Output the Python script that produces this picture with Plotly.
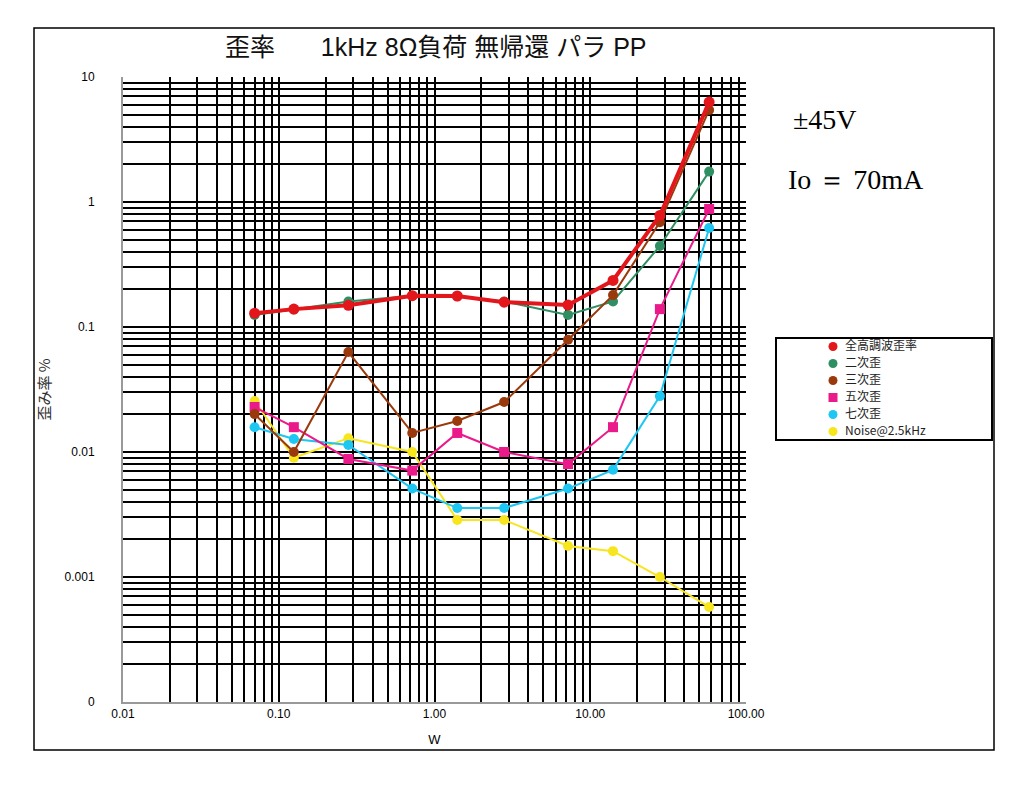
import plotly.graph_objects as go

# ---- data ----
power_w = [0.07, 0.125, 0.28, 0.72, 1.4, 2.8, 7.2, 14, 28, 58]
thd_total = [0.129, 0.139, 0.149, 0.178, 0.177, 0.158, 0.150, 0.236, 0.78, 6.3]
h2 = [0.125, 0.138, 0.160, 0.178, 0.176, 0.160, 0.125, 0.160, 0.445, 1.75]
h3 = [0.0201, 0.0100, 0.063, 0.0142, 0.0177, 0.0251, 0.079, 0.180, 0.69, 5.45]
h5 = [0.0229, 0.0158, 0.0088, 0.0071, 0.0142, 0.0100, 0.0080, 0.0158, 0.139, 0.88]
h7 = [0.0158, 0.0127, 0.0114, 0.0051, 0.00356, 0.00356, 0.0051, 0.0072, 0.028, 0.62]
noise = [0.0256, 0.0090, 0.0129, 0.0100, 0.00286, 0.00286, 0.00177, 0.00161, 0.0010, 0.000575]

series_names = ["全高調波歪率", "二次歪", "三次歪", "五次歪", "七次歪", "Noise@2.5kHz"]
series_values = [thd_total, h2, h3, h5, h7, noise]
series_colors = ["#e3161b", "#2f8f62", "#9a3a0c", "#ea1a8a", "#1ec6f2", "#f7e51e"]
series_symbols = ["circle", "circle", "circle", "square", "circle", "circle"]
series_widths = [4, 2, 2, 2, 2, 2]

x_tickvals = [0.01, 0.1, 1, 10, 100]
x_ticktext = ["0.01", "0.10", "1.00", "10.00", "100.00"]
y_tickvals = [0.0001, 0.001, 0.01, 0.1, 1, 10]
y_ticktext = ["0", "0.001", "0.01", "0.1", "1", "10"]

x_minor = [m * 10 ** e for e in range(-2, 2) for m in range(2, 10)]
y_minor = [m * 10 ** e for e in range(-4, 1) for m in range(2, 10)]

fig = go.Figure()

# draw lines (order: thin ones first, red on top)
order = [5, 4, 3, 1, 2, 0]
for i in order:
    fig.add_trace(go.Scatter(
        x=power_w, y=series_values[i], mode="lines+markers",
        line=dict(color=series_colors[i], width=series_widths[i]),
        marker=dict(color=series_colors[i], size=11 if i == 0 else 10,
                    symbol=series_symbols[i]),
        name=series_names[i], showlegend=False,
        xaxis="x", yaxis="y",
    ))

# legend drawn on an auxiliary axis pair (marker + label per series)
fig.add_trace(go.Scatter(
    x=[0] * len(series_names), y=list(range(len(series_names))),
    mode="markers+text", text=series_names, textposition="middle right",
    texttemplate="\u00a0\u00a0%{text}",
    textfont=dict(family="Noto Sans CJK JP, Liberation Sans", size=12, color="#222"),
    marker=dict(color=series_colors, symbol=series_symbols, size=9),
    showlegend=False, hoverinfo="skip", cliponaxis=False,
    xaxis="x2", yaxis="y2",
))

OFF = 8  # page body margin
L, R, T, B = 123, 746, 77, 702
RP = 994  # right edge of paper area used
W, H = 1016, 788
PW, ph = RP - L, B - T


def px(xp):
    return (xp - L) / PW


def py(yp):
    return (B - yp) / ph


fig.update_layout(
    width=W, height=H,
    margin=dict(l=L - OFF, r=W + OFF - RP, t=T - OFF, b=H + OFF - B),
    paper_bgcolor="white", plot_bgcolor="white",
    font=dict(family="Liberation Sans, Arial, sans-serif", color="black", size=12),
    showlegend=False,
    xaxis=dict(
        domain=[0, px(R)],
        type="log", range=[-2, 2],
        tickmode="array", tickvals=x_tickvals, ticktext=x_ticktext,
        showgrid=True, gridcolor="black", gridwidth=2,
        minor=dict(tickmode="array", tickvals=x_minor, showgrid=True,
                   gridcolor="black", gridwidth=1.6),
        showline=True, linecolor="#999", linewidth=2,
        ticks="", zeroline=False,
        tickfont=dict(size=12, family="Liberation Sans, Arial"),
        title=dict(text="W", font=dict(size=13), standoff=14),
    ),
    yaxis=dict(
        type="log", range=[-4, 1],
        tickmode="array", tickvals=y_tickvals, ticktext=y_ticktext,
        showgrid=True, gridcolor="black", gridwidth=2,
        minor=dict(tickmode="array", tickvals=y_minor, showgrid=True,
                   gridcolor="black", gridwidth=1.6),
        showline=True, linecolor="#999", linewidth=2,
        ticks="", zeroline=False, ticklabelstandoff=24,
        tickfont=dict(size=12, family="Liberation Sans, Arial"),
        title=dict(text="歪み率 %", font=dict(size=15, family="Noto Sans CJK JP", color="#333"),
                   standoff=10),
    ),
    xaxis2=dict(
        domain=[px(825), px(985)], range=[-1, 19], anchor="y2",
        visible=False, fixedrange=True,
    ),
    yaxis2=dict(
        domain=[py(440), py(338)], range=[5.5, -0.5], anchor="x2",
        visible=False, fixedrange=True,
    ),
    shapes=[
        dict(type="rect", xref="paper", yref="paper",
             x0=px(34), x1=px(994), y0=py(750), y1=py(28),
             line=dict(color="black", width=1.5), fillcolor="rgba(0,0,0,0)", layer="below"),
        dict(type="rect", xref="paper", yref="paper",
             x0=px(776), x1=px(992), y0=py(440), y1=py(338),
             line=dict(color="black", width=2), fillcolor="white", layer="below"),
    ],
    annotations=[
        dict(text="歪率\u3000\u00a0\u00a0\u00a01kHz 8Ω負荷 無帰還 パラ PP", xref="paper", yref="paper",
             x=px(436), y=py(47), xanchor="center", yanchor="middle", showarrow=False,
             font=dict(size=25, family="Liberation Sans, Noto Sans CJK JP", color="#111")),
        dict(text="±45V", xref="paper", yref="paper",
             x=px(825), y=py(120), xanchor="center", yanchor="middle", showarrow=False,
             font=dict(size=28, family="Liberation Serif, Times New Roman, serif", color="black")),
        dict(text="Io ＝ 70mA", xref="paper", yref="paper",
             x=px(856), y=py(180), xanchor="center", yanchor="middle", showarrow=False,
             font=dict(size=28, family="Liberation Serif, Times New Roman, serif", color="black")),
    ],
)

fig.write_html("out.html")
